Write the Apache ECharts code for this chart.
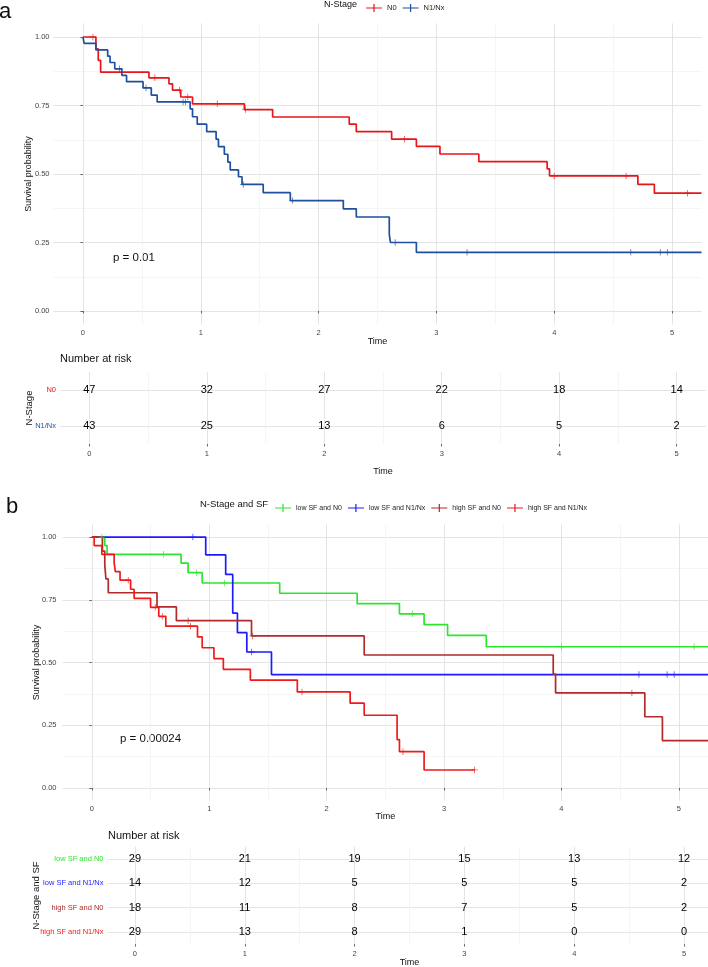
<!DOCTYPE html>
<html><head><meta charset="utf-8">
<script src="https://cdn.jsdelivr.net/npm/echarts@6/dist/echarts.min.js"></script>
<style>html,body{margin:0;padding:0;background:#fff}#c{width:708px;height:967px}</style>
</head><body><div id="c"></div>
<script>
// ---------- data ----------
const timeTicks = [0, 1, 2, 3, 4, 5];
const timeMinorTicks = [0.5, 1.5, 2.5, 3.5, 4.5];
const probTicks = [0, 0.25, 0.5, 0.75, 1];
const probMinorTicks = [0.125, 0.375, 0.625, 0.875];

const groupsA = ['N0', 'N1/Nx'];
const groupsB = ['low SF and N0', 'low SF and N1/Nx', 'high SF and N0', 'high SF and N1/Nx'];

// Panel a: Kaplan-Meier steps [time, survival]
const aN0 = [[0,1],[0.11,0.957],[0.13,0.915],[0.15,0.872],[0.56,0.851],[0.73,0.829],[0.76,0.806],[0.83,0.781],[0.93,0.756],[1.37,0.735],[1.61,0.708],[2.26,0.682],[2.32,0.655],[2.62,0.627],[2.83,0.601],[3.03,0.573],[3.36,0.545],[3.94,0.519],[3.96,0.493],[4.71,0.462],[4.85,0.43],[5.25,0.43]];
const aN0Censor = [[0.085,1],[0.61,0.851],[0.82,0.806],[0.89,0.781],[1.14,0.756],[1.38,0.735],[2.73,0.627],[4.0,0.493],[4.61,0.493],[5.13,0.43]];
const aN1 = [[0,1],[0.01,0.977],[0.11,0.953],[0.21,0.93],[0.23,0.907],[0.27,0.884],[0.33,0.86],[0.37,0.837],[0.51,0.814],[0.58,0.788],[0.63,0.763],[0.91,0.738],[0.93,0.709],[0.97,0.682],[1.05,0.655],[1.13,0.627],[1.15,0.6],[1.2,0.572],[1.23,0.543],[1.25,0.515],[1.32,0.49],[1.35,0.462],[1.53,0.432],[1.76,0.403],[2.21,0.373],[2.32,0.343],[2.6,0.28],[2.61,0.25],[2.83,0.214],[5.25,0.214]];
const aN1Censor = [[0.31,0.884],[0.535,0.814],[0.85,0.763],[0.87,0.763],[1.36,0.462],[1.78,0.403],[2.65,0.25],[3.26,0.214],[4.65,0.214],[4.9,0.214],[4.96,0.214]];

// Panel b
const bLowN0 = [[0,1],[0.11,0.966],[0.13,0.931],[0.76,0.896],[0.82,0.858],[0.94,0.817],[1.6,0.776],[2.26,0.735],[2.62,0.694],[2.83,0.651],[3.03,0.608],[3.36,0.563],[5.25,0.563]];
const bLowN0Censor = [[0.085,1],[0.61,0.931],[0.89,0.858],[1.13,0.817],[2.73,0.694],[4.0,0.563],[5.13,0.563]];
const bLowN1 = [[0,1],[0.97,0.929],[1.14,0.851],[1.2,0.697],[1.24,0.619],[1.32,0.542],[1.53,0.452],[5.25,0.452]];
const bLowN1Censor = [[0.86,1],[1.36,0.542],[4.66,0.452],[4.9,0.452],[4.96,0.452]];
const bHighN0 = [[0,1],[0.09,0.944],[0.11,0.889],[0.12,0.833],[0.14,0.778],[0.555,0.722],[0.72,0.667],[1.36,0.606],[2.32,0.53],[3.93,0.454],[3.95,0.379],[4.71,0.284],[4.86,0.189],[5.25,0.189]];
const bHighN0Censor = [[0.82,0.667],[1.37,0.606],[4.6,0.379]];
const bHighN1 = [[0,1],[0.02,0.966],[0.085,0.931],[0.19,0.897],[0.2,0.862],[0.24,0.828],[0.33,0.792],[0.36,0.756],[0.5,0.72],[0.57,0.684],[0.63,0.645],[0.9,0.602],[0.94,0.559],[1.04,0.516],[1.12,0.473],[1.35,0.43],[1.75,0.383],[2.2,0.338],[2.32,0.29],[2.6,0.193],[2.62,0.145],[2.83,0.072],[3.26,0.072]];
const bHighN1Censor = [[0.31,0.828],[0.54,0.72],[0.6,0.684],[0.84,0.645],[1.79,0.383],[2.65,0.145],[3.26,0.072]];

// Number at risk
const riskA_N0 = [47, 32, 27, 22, 18, 14];
const riskA_N1 = [43, 25, 13, 6, 5, 2];
const riskB_lowN0 = [29, 21, 19, 15, 13, 12];
const riskB_lowN1 = [14, 12, 5, 5, 5, 2];
const riskB_highN0 = [18, 11, 8, 7, 5, 2];
const riskB_highN1 = [29, 13, 8, 1, 0, 0];

// ---------- style ----------
const FONT = '"Liberation Sans", Arial, Helvetica, sans-serif';
const colorsA = ['#e8161b', '#1f4f9e'];
const colorsB = ['#2ee52e', '#1c1cff', '#b22a2a', '#f01a1a'];
const MAJOR = '#e1e1e1', MINOR = '#f1f1f1';
const CROSS = 'path://M0,4.4H10V5.6H0Z M4.4,0H5.6V10H4.4Z';
const LEG_ICON = 'path://M0,4.5H16V5.5H0Z M7.4,1H8.6V9H7.4Z';

function xMain(gi, nameGap, labelMargin) {
  return {type:'value', gridIndex:gi, min:-0.25, max:5.25,
    axisLine:{show:false},
    axisTick:{show:true, customValues:timeTicks, length:2.5, lineStyle:{color:'#444', width:0.8}},
    axisLabel:{customValues:timeTicks, fontSize:7.5, color:'#444', margin:labelMargin, fontFamily:FONT},
    splitLine:{show:true, lineStyle:{color:MAJOR, width:0.9}},
    name:'Time', nameLocation:'middle', nameGap:nameGap, nameMoveOverlap:false,
    nameTextStyle:{fontSize:9, color:'#111', fontFamily:FONT}};
}
function xMinor(gi) {
  return {type:'value', gridIndex:gi, min:-0.25, max:5.25,
    axisLine:{show:false}, axisTick:{show:false, customValues:timeMinorTicks},
    axisLabel:{show:false, customValues:timeMinorTicks},
    splitLine:{show:true, lineStyle:{color:MINOR, width:0.7}}};
}
function yMain(gi, nameGap, margin) {
  return {type:'value', gridIndex:gi, min:-0.05, max:1.05,
    axisLine:{show:false},
    axisTick:{show:true, customValues:probTicks, length:2.5, lineStyle:{color:'#444', width:0.8}},
    axisLabel:{customValues:probTicks, formatter:v => Number(v).toFixed(2), fontSize:7.5, color:'#444', margin:margin, fontFamily:FONT},
    splitLine:{show:true, lineStyle:{color:MAJOR, width:0.9}},
    name:'Survival probability', nameLocation:'middle', nameGap:nameGap, nameRotate:90, nameMoveOverlap:false,
    nameTextStyle:{fontSize:9, color:'#111', fontFamily:FONT}};
}
function yMinor(gi) {
  return {type:'value', gridIndex:gi, min:-0.05, max:1.05,
    axisLine:{show:false}, axisTick:{show:false, customValues:probMinorTicks},
    axisLabel:{show:false, customValues:probMinorTicks},
    splitLine:{show:true, lineStyle:{color:MINOR, width:0.7}}};
}
function yRisk(gi, groups, colors, title, nameGap) {
  const rows = groups.map((g, i) => i + 1);
  const rich = {};
  groups.forEach((g, i) => { rich['r' + (i + 1)] = {color:colors[i], fontSize:7.5, fontFamily:FONT}; });
  return {type:'value', gridIndex:gi, min:0.5, max:groups.length + 0.5, inverse:true,
    axisLine:{show:false},
    axisTick:{show:true, customValues:rows, length:2.5, lineStyle:{color:'#444', width:0.8}},
    axisLabel:{customValues:rows, margin:4, formatter:v => '{r' + Math.round(v) + '|' + groups[Math.round(v) - 1] + '}', rich:rich},
    splitLine:{show:true, lineStyle:{color:MAJOR, width:0.9}},
    name:title, nameLocation:'middle', nameGap:nameGap, nameRotate:90, nameMoveOverlap:false,
    nameTextStyle:{fontSize:9.5, color:'#111', fontFamily:FONT}};
}
function kmLine(name, data, color, xi, yi) {
  return {type:'line', name:name, data:data, step:'end', xAxisIndex:xi, yAxisIndex:yi,
    symbol:'none', showSymbol:false, lineStyle:{color:color, width:1.7}, itemStyle:{color:color},
    animation:false, silent:true, z:3};
}
function censor(name, data, color, xi, yi) {
  return {type:'scatter', name:name, data:data, xAxisIndex:xi, yAxisIndex:yi,
    symbol:CROSS, symbolSize:6.5, itemStyle:{color:color}, animation:false, silent:true, z:4};
}
function riskRow(name, counts, row, xi, yi) {
  return {type:'custom', name:name, xAxisIndex:xi, yAxisIndex:yi,
    data:timeTicks.map((t, i) => [t, row, counts[i]]),
    encode:{x:0, y:1},
    renderItem:(params, api) => {
      const p = api.coord([api.value(0), api.value(1)]);
      return {type:'text', x:p[0], y:p[1],
        style:{text:String(api.value(2)), fill:'#000', fontSize:11, fontFamily:FONT, align:'center', verticalAlign:'middle'}};
    },
    animation:false, silent:true, z:5};
}

const option = {
  backgroundColor:'#ffffff',
  animation:false,
  textStyle:{fontFamily:FONT},
  grid:[
    {left:53.5, top:23.3, width:648, height:301.4, outerBoundsMode:'none', containLabel:false},
    {left:60, top:372, width:646, height:72, outerBoundsMode:'none', containLabel:false},
    {left:62.5, top:524.5, width:645.7, height:276.1, outerBoundsMode:'none', containLabel:false},
    {left:107.5, top:846.8, width:604, height:97.3, outerBoundsMode:'none', containLabel:false}
  ],
  xAxis:[
    xMain(0, 12.8, 3.8), xMinor(0),
    xMain(1, 23.5, 5.5), xMinor(1),
    xMain(2, 11.9, 3.9), xMinor(2),
    xMain(3, 14.4, 5.5), xMinor(3)
  ],
  yAxis:[
    yMain(0, 20.5, 4), yMinor(0),
    yRisk(1, groupsA, colorsA, 'N-Stage', 25.5),
    yMain(2, 21.5, 6), yMinor(2),
    yRisk(3, groupsB, colorsB, 'N-Stage and SF', 66)
  ],
  legend:[
    {data:groupsA.map(n => ({name:n, icon:LEG_ICON})), left:361, top:-1, itemWidth:16, itemHeight:10, itemGap:6,
      textStyle:{fontSize:7.5, color:'#222', fontFamily:FONT}, selectedMode:false},
    {data:groupsB.map(n => ({name:n, icon:LEG_ICON})), left:270, top:499, itemWidth:16, itemHeight:10, itemGap:6,
      textStyle:{fontSize:7, color:'#222', fontFamily:FONT}, selectedMode:false}
  ],
  graphic:[
    {type:'text', x:-1, y:11.5, style:{text:'a', fontSize:22, fontFamily:FONT, fill:'#111', verticalAlign:'middle', align:'left'}},
    {type:'text', x:6, y:506.5, style:{text:'b', fontSize:22, fontFamily:FONT, fill:'#111', verticalAlign:'middle', align:'left'}},
    {type:'text', x:324, y:4.5, style:{text:'N-Stage', fontSize:9, fontFamily:FONT, fill:'#111', verticalAlign:'middle', align:'left'}},
    {type:'text', x:200, y:504.5, style:{text:'N-Stage and SF', fontSize:9.5, fontFamily:FONT, fill:'#111', verticalAlign:'middle', align:'left'}},
    {type:'text', x:113, y:258, style:{text:'p = 0.01', fontSize:11.5, fontFamily:FONT, fill:'#111', verticalAlign:'middle', align:'left'}},
    {type:'text', x:120, y:739, style:{text:'p = 0.00024', fontSize:11.5, fontFamily:FONT, fill:'#111', verticalAlign:'middle', align:'left'}},
    {type:'text', x:60, y:359, style:{text:'Number at risk', fontSize:11, fontFamily:FONT, fill:'#111', verticalAlign:'middle', align:'left'}},
    {type:'text', x:108, y:836, style:{text:'Number at risk', fontSize:11, fontFamily:FONT, fill:'#111', verticalAlign:'middle', align:'left'}}
  ],
  series:[
    kmLine('N0', aN0, colorsA[0], 0, 0),
    kmLine('N1/Nx', aN1, colorsA[1], 0, 0),
    censor('N0 censored', aN0Censor, colorsA[0], 0, 0),
    censor('N1/Nx censored', aN1Censor, colorsA[1], 0, 0),
    riskRow('risk N0', riskA_N0, 1, 2, 2),
    riskRow('risk N1/Nx', riskA_N1, 2, 2, 2),
    kmLine(groupsB[0], bLowN0, colorsB[0], 4, 3),
    kmLine(groupsB[1], bLowN1, colorsB[1], 4, 3),
    kmLine(groupsB[2], bHighN0, colorsB[2], 4, 3),
    kmLine(groupsB[3], bHighN1, colorsB[3], 4, 3),
    censor('c1', bLowN0Censor, colorsB[0], 4, 3),
    censor('c2', bLowN1Censor, colorsB[1], 4, 3),
    censor('c3', bHighN0Censor, colorsB[2], 4, 3),
    censor('c4', bHighN1Censor, colorsB[3], 4, 3),
    riskRow('risk b1', riskB_lowN0, 1, 6, 5),
    riskRow('risk b2', riskB_lowN1, 2, 6, 5),
    riskRow('risk b3', riskB_highN0, 3, 6, 5),
    riskRow('risk b4', riskB_highN1, 4, 6, 5)
  ]
};
const chart = echarts.init(document.getElementById('c'), null, {renderer:'canvas'});
chart.setOption(option);
</script></body></html>
